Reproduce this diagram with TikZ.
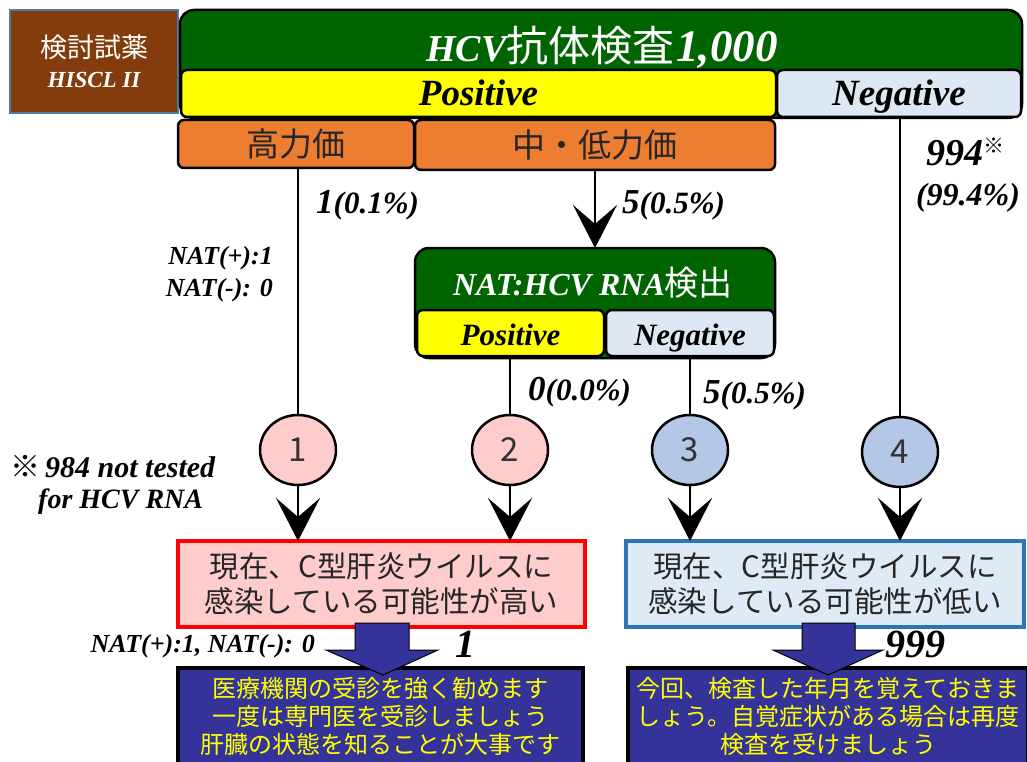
\documentclass[tikz,border=0pt]{standalone}
\usepackage{fontspec}
\setmainfont{Liberation Serif}
\newfontfamily\jp{Noto Sans CJK JP}
\usetikzlibrary{arrows.meta,shapes.geometric}
\definecolor{dgreen}{RGB}{0,100,0}
\definecolor{ylw}{RGB}{255,255,0}
\definecolor{negblue}{RGB}{222,232,244}
\definecolor{orng}{RGB}{237,125,49}
\definecolor{brwn}{RGB}{132,60,12}
\definecolor{brwnedge}{RGB}{80,120,160}
\definecolor{pnk}{RGB}{255,204,204}
\definecolor{cblue}{RGB}{180,199,231}
\definecolor{dblue}{RGB}{51,51,153}
\definecolor{bedge}{RGB}{46,117,182}
\definecolor{lblue}{RGB}{222,235,247}
\newcommand\bi{\bfseries\itshape}
\newcommand\setfs[1]{\fontsize{#1}{#1}\selectfont}
\begin{document}
\begin{tikzpicture}[x=1pt,y=-1pt,
  box/.style={draw=black, line width=2.5pt, anchor=north west, inner sep=0pt, outer sep=0pt},
  rbox/.style={box, rounded corners=6pt},
  bigpn/.style={font=\bi\setfs{37}, text height=28pt, text depth=3pt},
  smallpn/.style={font=\bi\setfs{31}, text height=25pt, text depth=1pt},
  circ/.style={ellipse, draw=black, line width=2.5pt, minimum width=76pt, minimum height=70pt, inner sep=0pt, font=\jp\setfs{33}, text=black!80},
  conn/.style={line width=2.5pt},
  arr/.style={conn, -{Stealth[length=43pt,width=44pt,inset=19pt]}},
  lab/.style={inner sep=0pt, font=\bi},
  barrow/.style={fill=dblue, draw=black, line width=1pt, line join=miter}
]
\useasboundingbox (0,0) rectangle (1027,762);

% kit label
\node[box, draw=brwnedge, line width=1.5pt, fill=brwn, minimum width=168pt, minimum height=103pt] (kit) at (10,10) {};
\node[lab, text=white, font=\jp\setfs{27}] (kitjp) at (94,47) {検討試薬};
\node[lab, text=white, font=\bi\setfs{23}] (kiten) at (94,80) {HISCL II};

% top test box
\node[box, rounded corners=14pt, fill=dgreen, minimum width=842pt, minimum height=108pt] (top) at (180,10) {};
\node[inner sep=0pt, anchor=base, text=white] (title) at (602,62) {{\bi\setfs{38}HCV}{\jp\setfs{42}抗体検査}\,{\bi\setfs{45}1,000}};
\node[rbox, fill=ylw, minimum width=595pt, minimum height=47pt, bigpn] (pos) at (181,70) {Positive};
\node[rbox, fill=negblue, minimum width=244pt, minimum height=47pt, bigpn] (neg) at (777,70) {Negative};

% titre boxes
\node[rbox, fill=orng, minimum width=236pt, minimum height=48pt, font=\jp\setfs{33}, text=black!85] (hk) at (178,120) {高力価};
\node[rbox, fill=orng, minimum width=360pt, minimum height=50pt, font=\jp\setfs{33}, text=black!85] (ml) at (415,120) {中・低力価};

% NAT box
\node[box, rounded corners=14pt, fill=dgreen, minimum width=360pt, minimum height=110pt] (nat) at (415,248) {};
\node[inner sep=0pt, anchor=base, text=white] (nattitle) at (593,295) {{\bi\setfs{32}NAT:HCV RNA}{\jp\setfs{34}検出}};
\node[rbox, fill=ylw, minimum width=187pt, minimum height=46pt, smallpn] (npos) at (417,310) {Positive};
\node[rbox, fill=negblue, minimum width=168pt, minimum height=46pt, smallpn] (nneg) at (606,310) {Negative};

% circles
\node[circ, fill=pnk] (c1) at (298,450) {1};
\node[circ, fill=pnk] (c2) at (510,450) {2};
\node[circ, fill=cblue] (c3) at (690,450) {3};
\node[circ, fill=cblue] (c4) at (900,452) {4};

% result boxes
\node[box, draw=red, line width=3.5pt, fill=pnk, minimum width=407pt, minimum height=86pt] (hi) at (178,541) {};
\node[inner sep=0pt, align=center, font=\jp\fontsize{29.5}{35}\selectfont, text=black!85] (hitext) at (hi.center) {現在、C型肝炎ウイルスに\\感染している可能性が高い};
\node[box, draw=bedge, line width=3.5pt, fill=lblue, minimum width=398pt, minimum height=86pt] (lo) at (626,541) {};
\node[inner sep=0pt, align=center, font=\jp\fontsize{29.5}{35}\selectfont, text=black!85] (lotext) at (lo.center) {現在、C型肝炎ウイルスに\\感染している可能性が低い};

% advice boxes
\node[box, line width=3.5pt, fill=dblue, minimum width=405pt, minimum height=96pt] (adv1) at (178,668) {};
\node[inner sep=0pt, align=center, font=\jp\fontsize{24}{28}\selectfont, text=ylw] (adv1t) at (adv1.center) {医療機関の受診を強く勧めます\\一度は専門医を受診しましょう\\肝臓の状態を知ることが大事です};
\node[box, line width=3.5pt, fill=dblue, minimum width=400pt, minimum height=96pt] (adv2) at (628,668) {};
\node[inner sep=0pt, align=center, font=\jp\fontsize{24}{28}\selectfont, text=ylw] (adv2t) at (adv2.center) {今回、検査した年月を覚えておきま\\しょう。自覚症状がある場合は再度\\検査を受けましょう};

% connectors
\draw[conn] (c1 |- hk.south) -- (c1.north);
\draw[arr] (ml.south) -- (nat.north);
\draw[conn] (c4 |- neg.south) -- (c4.north);
\draw[conn] (c2 |- npos.south) -- (c2.north);
\draw[conn] (c3 |- nneg.south) -- (c3.north);
\draw[arr] (c1.south) -- (c1 |- hi.north);
\draw[arr] (c2.south) -- (c2 |- hi.north);
\draw[arr] (c3.south) -- (c3 |- lo.north);
\draw[arr] (c4.south) -- (c4 |- lo.north);

% block arrows
\draw[barrow] (355,623) -- (409,623) -- (409,650) -- (438,650) -- (383,675) -- (326,650) -- (355,650) -- cycle;
\draw[barrow] (802,623) -- (855,623) -- (855,650) -- (883,650) -- (828,675) -- (773,650) -- (802,650) -- cycle;

% labels
\node[lab, anchor=base west] (l1) at (316,213) {{\setfs{35}1}{\setfs{31}(0.1\%)}};
\node[lab, anchor=base west] (l2) at (622,213) {{\setfs{35}5}{\setfs{31}(0.5\%)}};
\node[lab, anchor=base west] (l3) at (528,400) {{\setfs{35}0}{\setfs{31}(0.0\%)}};
\node[lab, anchor=base west] (l4) at (703,403) {{\setfs{35}5}{\setfs{31}(0.5\%)}};
\node[lab, anchor=base west] (l5) at (926,166) {{\setfs{38}994}{\jp\mdseries\upshape\setfs{21}\raisebox{12pt}{※}}};
\node[lab, anchor=base, font=\bi\setfs{32}] (l6) at (968,205) {(99.4\%)};
\node[lab, anchor=base east, font=\bi\setfs{26}] (n1) at (273,264) {NAT(+):1};
\node[lab, anchor=base east, font=\bi\setfs{26}] (n2) at (273,296) {NAT(-): 0};
\node[lab, anchor=base west, font=\bi\setfs{30}] (note1) at (10,477) {{\jp\mdseries\upshape ※}\,984 not tested};
\node[lab, anchor=base west, font=\bi\setfs{28}] (note2) at (38,508) {for HCV RNA};
\node[lab, anchor=base east, font=\bi\setfs{26}] (n3) at (315,652) {NAT(+):1, NAT(-): 0};
\node[lab, anchor=base, font=\bi\setfs{40}] (cnt1) at (465,657) {1};
\node[lab, anchor=base west, font=\bi\setfs{40}] (cnt2) at (885,657) {999};
\end{tikzpicture}
\end{document}
